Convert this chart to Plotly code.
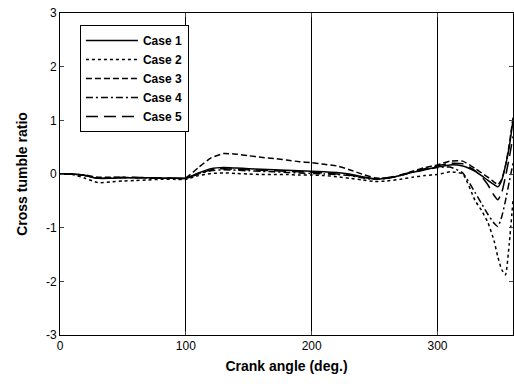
import plotly.graph_objects as go

angle = [0, 10, 20, 30, 40, 50, 60, 70, 80, 90, 100, 110, 120, 130, 140, 150, 160, 170, 180, 190,
         200, 210, 220, 230, 240, 250, 260, 270, 280, 290, 300, 310, 320, 330, 335, 340, 345, 348,
         351, 354, 357, 360]

case1 = [0, 0, -0.03, -0.08, -0.08, -0.07, -0.07, -0.07, -0.08, -0.08, -0.08, 0.02, 0.1, 0.12, 0.11,
         0.1, 0.09, 0.08, 0.07, 0.06, 0.05, 0.04, 0.03, 0.0, -0.05, -0.09, -0.08, -0.03, 0.03, 0.08,
         0.13, 0.17, 0.15, 0.05, -0.03, -0.12, -0.2, -0.24, -0.12, 0.15, 0.5, 1.0]
case2 = [0, -0.01, -0.08, -0.16, -0.15, -0.13, -0.12, -0.11, -0.1, -0.1, -0.1, -0.03, 0.01, 0.02, 0.01,
         0.0, -0.01, -0.01, -0.01, -0.02, -0.02, -0.03, -0.05, -0.08, -0.11, -0.14, -0.13, -0.1, -0.06,
         -0.03, -0.01, 0.04, 0.0, -0.5, -0.68, -0.9, -1.25, -1.55, -1.78, -1.88, -1.3, -0.5]
case3 = [0, 0, -0.02, -0.06, -0.06, -0.06, -0.07, -0.07, -0.08, -0.08, -0.07, 0.12, 0.3, 0.38, 0.37,
         0.34, 0.31, 0.29, 0.26, 0.23, 0.21, 0.18, 0.15, 0.08, 0.0, -0.07, -0.08, -0.03, 0.05, 0.12,
         0.17, 0.24, 0.24, 0.1, 0.02, -0.06, -0.15, -0.2, -0.1, 0.15, 0.55, 1.05]
case4 = [0, 0, -0.03, -0.08, -0.07, -0.07, -0.07, -0.07, -0.08, -0.08, -0.08, 0.0, 0.06, 0.08, 0.07,
         0.06, 0.05, 0.04, 0.03, 0.02, 0.01, 0.0, -0.01, -0.03, -0.07, -0.1, -0.08, -0.03, 0.03, 0.08,
         0.12, 0.13, 0.02, -0.35, -0.55, -0.75, -0.92, -0.98, -0.8, -0.5, -0.15, 0.2]
case5 = [0, 0, -0.03, -0.08, -0.07, -0.06, -0.06, -0.07, -0.07, -0.08, -0.08, 0.0, 0.08, 0.1, 0.09,
         0.08, 0.07, 0.06, 0.05, 0.04, 0.03, 0.02, 0.0, -0.02, -0.06, -0.09, -0.07, -0.02, 0.04, 0.1,
         0.15, 0.2, 0.19, 0.06, -0.05, -0.2, -0.4, -0.48, -0.35, -0.05, 0.3, 0.7]

series_names = ["Case 1", "Case 2", "Case 3", "Case 4", "Case 5"]
series_values = [case1, case2, case3, case4, case5]
dashes = ["solid", "dot", "6px,3px", "7px,3px,2px,3px", "12px,6px"]

x_ticks = [0, 100, 200, 300]
y_ticks = [-3, -2, -1, 0, 1, 2, 3]
y_tick_labels = ["-3", "-2", "-1", "0", "1", "2", "3"]

fig = go.Figure()
for name, vals, d in zip(series_names, series_values, dashes):
    fig.add_trace(go.Scatter(x=angle, y=vals, mode="lines", name=name,
                             line=dict(color="black", width=1.5, dash=d, shape="spline", smoothing=0.5)))

fig.update_layout(
    width=514, height=387,
    margin=dict(l=60, r=1, t=13, b=52),
    paper_bgcolor="white", plot_bgcolor="white",
    font=dict(family="Liberation Sans, Arial, sans-serif", size=12, color="black"),
    showlegend=True,
    legend=dict(x=0.044, y=0.963, xanchor="left", yanchor="top",
                bgcolor="white", bordercolor="black", borderwidth=1,
                font=dict(size=12, weight="bold"), tracegroupgap=0, itemwidth=52),
)
fig.update_xaxes(range=[0, 360], tickvals=x_ticks, ticks="inside", ticklen=4,
                 showline=True, linecolor="black", linewidth=1, mirror="ticks",
                 showgrid=True, gridcolor="black", gridwidth=0.6, zeroline=False,
                 ticklabeloverflow="allow",
                 title=dict(text="<b>Crank angle (deg.)</b>", font=dict(size=14), standoff=8))
fig.update_yaxes(range=[-3, 3], tickvals=y_ticks, ticktext=y_tick_labels, ticks="inside", ticklen=4,
                 showline=True, linecolor="black", linewidth=1, mirror="ticks",
                 showgrid=False, zeroline=False, ticklabeloverflow="allow",
                 title=dict(text="<b>Cross tumble ratio</b>", font=dict(size=14), standoff=15))

fig.write_html("out.html", config={"displayModeBar": False},
               post_script="document.body.style.margin='0';document.body.style.overflow='hidden';")
